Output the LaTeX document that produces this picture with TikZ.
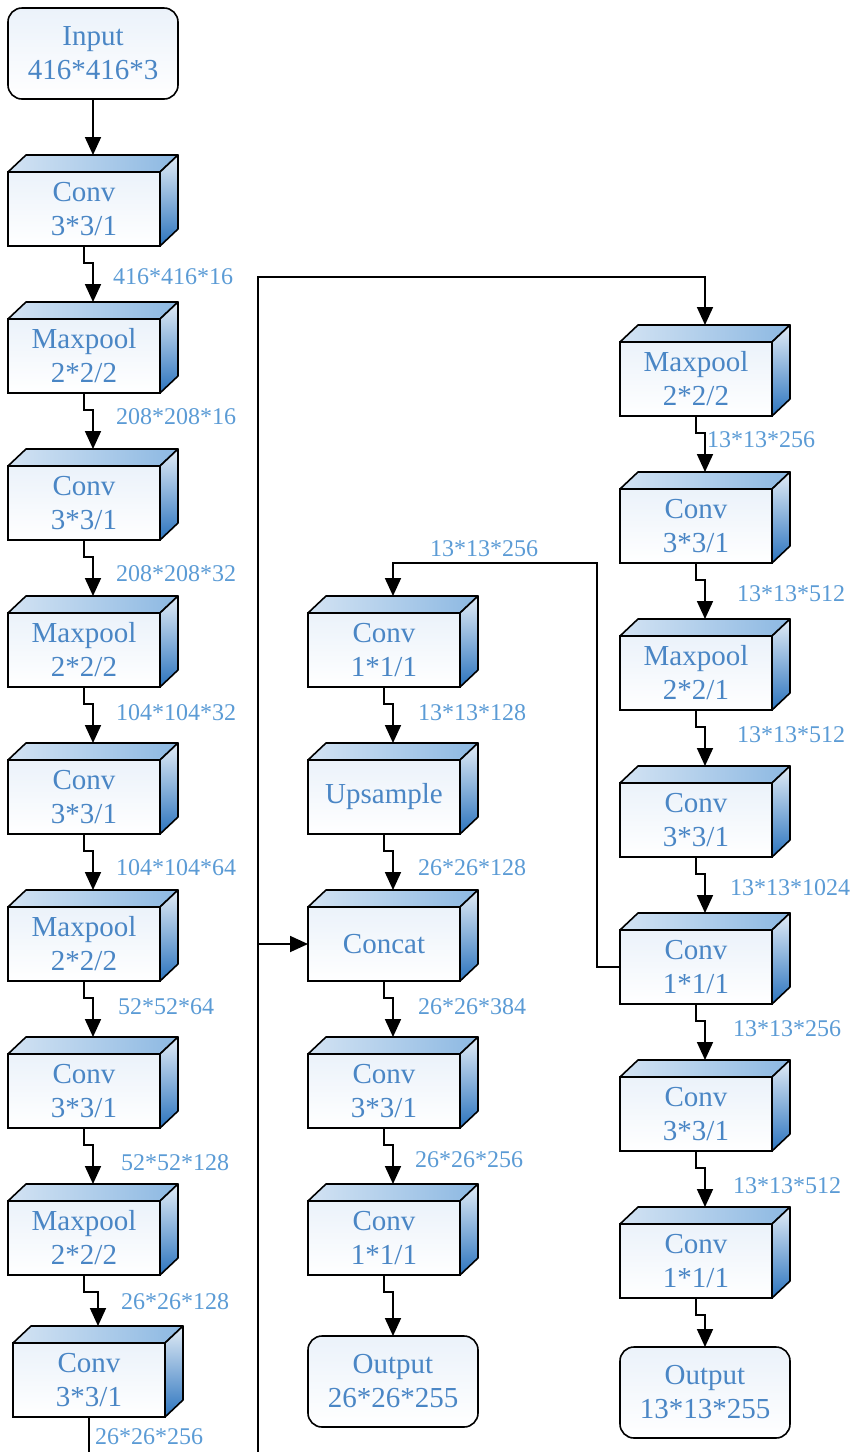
\documentclass[tikz,border=0pt]{standalone}
\usepackage{fontspec}
\setmainfont{Liberation Serif}
\usetikzlibrary{arrows.meta,calc}
\definecolor{txt}{HTML}{4A86C5}
\definecolor{lbl}{HTML}{5B9BD5}
\definecolor{frontT}{HTML}{EBF2FA}
\definecolor{topL}{HTML}{D3E3F3}
\definecolor{topM}{HTML}{F4F8FC}
\definecolor{topR}{HTML}{8CB8E2}
\definecolor{sideT}{HTML}{E2ECF6}
\definecolor{sideB}{HTML}{2C74BE}
\tikzset{
  blk/.style={draw, line width=1.6pt, minimum width=152pt, minimum height=74pt,
    inner sep=0pt, outer sep=0pt, anchor=north west, top color=frontT, bottom color=white,
    text=txt, font=\fontsize{29}{34}\selectfont, align=center},
  rnd/.style={draw, line width=1.6pt, rounded corners=14pt, minimum width=170pt,
    minimum height=91pt, inner sep=0pt, outer sep=0pt, anchor=north west,
    top color=frontT, bottom color=white, text=txt,
    font=\fontsize{29}{34}\selectfont, align=center},
  face/.style={draw=black, line width=1.6pt, line join=round},
  arr/.style={line width=1.8pt, -{Triangle[width=16pt,length=18pt]}},
  ln/.style={line width=1.8pt},
  lab/.style={text=lbl, font=\fontsize{24}{24}\selectfont, anchor=west, inner sep=0pt}
}
\newcommand\blkfaces[1]{%
  \shade[face, left color=topL, middle color=topM, right color=topR]
    (#1.north west) -- ++(18,-17) -- ($(#1.north east)+(18,-17)$) -- (#1.north east) -- cycle;
  \shade[face, top color=sideT, bottom color=sideB]
    (#1.north east) -- ++(18,-17) -- ($(#1.south east)+(18,-17)$) -- (#1.south east) -- cycle;
  \coordinate (#1-t) at ($(#1.north)+(9,-17)$);
}
\begin{document}
\begin{tikzpicture}[x=1pt,y=-1pt]
\useasboundingbox (0,0) rectangle (857,1452);
% left column
\node[rnd] (in) at (8,8) {Input\\416*416*3};
\node[blk] (L1) at (8,172) {Conv\\3*3/1}; \blkfaces{L1}
\node[blk] (L2) at (8,319) {Maxpool\\2*2/2}; \blkfaces{L2}
\node[blk] (L3) at (8,466) {Conv\\3*3/1}; \blkfaces{L3}
\node[blk] (L4) at (8,613) {Maxpool\\2*2/2}; \blkfaces{L4}
\node[blk] (L5) at (8,760) {Conv\\3*3/1}; \blkfaces{L5}
\node[blk] (L6) at (8,907) {Maxpool\\2*2/2}; \blkfaces{L6}
\node[blk] (L7) at (8,1054) {Conv\\3*3/1}; \blkfaces{L7}
\node[blk] (L8) at (8,1201) {Maxpool\\2*2/2}; \blkfaces{L8}
\node[blk] (L9) at (13,1343) {Conv\\3*3/1}; \blkfaces{L9}
% middle column
\node[blk] (M1) at (308,613) {Conv\\1*1/1}; \blkfaces{M1}
\node[blk] (M2) at (308,760) {Upsample}; \blkfaces{M2}
\node[blk] (M3) at (308,907) {Concat}; \blkfaces{M3}
\node[blk] (M4) at (308,1054) {Conv\\3*3/1}; \blkfaces{M4}
\node[blk] (M5) at (308,1201) {Conv\\1*1/1}; \blkfaces{M5}
\node[rnd] (o2) at (308,1336) {Output\\26*26*255};
% right column
\node[blk] (R1) at (620,342) {Maxpool\\2*2/2}; \blkfaces{R1}
\node[blk] (R2) at (620,489) {Conv\\3*3/1}; \blkfaces{R2}
\node[blk] (R3) at (620,636) {Maxpool\\2*2/1}; \blkfaces{R3}
\node[blk] (R4) at (620,783) {Conv\\3*3/1}; \blkfaces{R4}
\node[blk] (R5) at (620,930) {Conv\\1*1/1}; \blkfaces{R5}
\node[blk] (R6) at (620,1077) {Conv\\3*3/1}; \blkfaces{R6}
\node[blk] (R7) at (620,1224) {Conv\\1*1/1}; \blkfaces{R7}
\node[rnd] (o1) at (620,1347) {Output\\13*13*255};
% off-picture ends
\coordinate (b1) at (89,1452);
\coordinate (b2) at (258,1452);
% left chain
\draw[arr] (in.south) -- ++(0,17) -| (L1-t);
\draw[arr] (L1.south) -- ++(0,17) -| (L2-t);
\draw[arr] (L2.south) -- ++(0,17) -| (L3-t);
\draw[arr] (L3.south) -- ++(0,17) -| (L4-t);
\draw[arr] (L4.south) -- ++(0,17) -| (L5-t);
\draw[arr] (L5.south) -- ++(0,17) -| (L6-t);
\draw[arr] (L6.south) -- ++(0,17) -| (L7-t);
\draw[arr] (L7.south) -- ++(0,17) -| (L8-t);
\draw[arr] (L8.south) -- ++(0,17) -| (L9-t);
\draw[ln] (L9.south) -- (b1);
% long branch
\draw[arr] (b2) -- (258,277) -| (R1-t);
\draw[arr] (b2 |- M3.west) -- (M3.west);
% right chain
\draw[arr] (R1.south) -- ++(0,17) -| (R2-t);
\draw[arr] (R2.south) -- ++(0,17) -| (R3-t);
\draw[arr] (R3.south) -- ++(0,17) -| (R4-t);
\draw[arr] (R4.south) -- ++(0,17) -| (R5-t);
\draw[arr] (R5.south) -- ++(0,17) -| (R6-t);
\draw[arr] (R6.south) -- ++(0,17) -| (R7-t);
\draw[arr] (R7.south) -- ++(0,17) -| (o1.north);
% middle chain
\draw[arr] (R5.west) -- (597,967) -- (597,563) -| (M1-t);
\draw[arr] (M1.south) -- ++(0,17) -| (M2-t);
\draw[arr] (M2.south) -- ++(0,17) -| (M3-t);
\draw[arr] (M3.south) -- ++(0,17) -| (M4-t);
\draw[arr] (M4.south) -- ++(0,17) -| (M5-t);
\draw[arr] (M5.south) -- ++(0,17) -| (o2.north);
% labels left
\node[lab] (l1) at (113,277) {416*416*16};
\node[lab] (l2) at (116,417) {208*208*16};
\node[lab] (l3) at (116,574) {208*208*32};
\node[lab] (l4) at (116,713) {104*104*32};
\node[lab] (l5) at (116,868) {104*104*64};
\node[lab] (l6) at (118,1007) {52*52*64};
\node[lab] (l7) at (121,1163) {52*52*128};
\node[lab] (l8) at (121,1302) {26*26*128};
\node[lab] (l9) at (95,1437) {26*26*256};
% labels middle
\node[lab] (m0) at (430,549) {13*13*256};
\node[lab] (m1) at (418,713) {13*13*128};
\node[lab] (m2) at (418,868) {26*26*128};
\node[lab] (m3) at (418,1007) {26*26*384};
\node[lab] (m4) at (415,1160) {26*26*256};
% labels right
\node[lab] (r1) at (707,440) {13*13*256};
\node[lab] (r2) at (737,594) {13*13*512};
\node[lab] (r3) at (737,735) {13*13*512};
\node[lab] (r4) at (730,888) {13*13*1024};
\node[lab] (r5) at (733,1029) {13*13*256};
\node[lab] (r6) at (733,1186) {13*13*512};
\end{tikzpicture}
\end{document}
